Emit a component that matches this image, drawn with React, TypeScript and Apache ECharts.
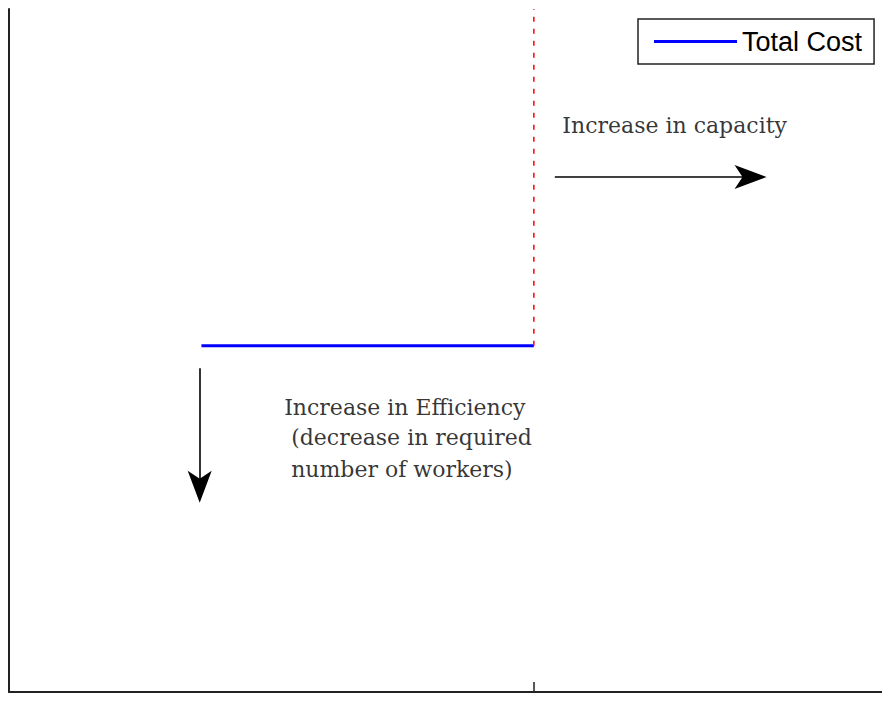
import React, { useEffect, useRef } from "react";
import * as echarts from "echarts";

// x positions (arbitrary units), y = cost
const capacityX = 60;
const startX = 22;
const costLevel = 50.7;
const topY = 100;

const totalCost: [number, number][] = [
  [startX, costLevel],
  [capacityX, costLevel],
];
const capacityLine: [number, number][] = [
  [capacityX, costLevel],
  [capacityX, topY],
];
const arrowCapacity: [number, number][] = [
  [62.4, 75.4],
  [85.5, 75.4],
];
const arrowEfficiency: [number, number][] = [
  [21.8, 47.4],
  [21.8, 28.8],
];
// arrowhead tips and their rotation (degrees)
const arrowHeads: { pos: [number, number]; rotate: number }[] = [
  { pos: [86.6, 75.4], rotate: -90 },
  { pos: [21.8, 27.7], rotate: 180 },
];
const notes: { text: string; pos: [number, number] }[] = [
  { text: "Increase in capacity", pos: [63.2, 82.9] },
  { text: "Increase in Efficiency", pos: [31.4, 41.7] },
  { text: "(decrease in required", pos: [32.2, 37.2] },
  { text: "number of workers)", pos: [32.2, 32.6] },
];

export default function App() {
  const ref = useRef<HTMLDivElement>(null);
  useEffect(() => {
    if (!ref.current) return;
    const chart = echarts.init(ref.current, undefined, { renderer: "svg" });
    chart.setOption({
      animation: false,
      backgroundColor: "#fff",
      grid: { left: 9, top: 9, right: 0, bottom: 10 },
      legend: {
        data: [{ name: "Total Cost", icon: "rect" }],
        left: 638,
        top: 19,
        padding: [9, 12, 9, 16],
        itemWidth: 83,
        itemHeight: 3,
        borderColor: "#222",
        borderWidth: 1.5,
        textStyle: { fontFamily: "Liberation Sans", fontSize: 27, color: "#000" },
      },
      xAxis: {
        type: "value",
        min: 0,
        max: 99.8,
        axisLine: { show: true, onZero: false, lineStyle: { color: "#222", width: 2 } },
        axisTick: { show: true, inside: true, length: 10, customValues: [capacityX], lineStyle: { color: "#222", width: 1.5 } },
        axisLabel: { show: false },
        splitLine: { show: false },
      },
      yAxis: {
        type: "value",
        min: 0,
        max: 100,
        axisLine: { show: true, onZero: false, lineStyle: { color: "#222", width: 2 } },
        axisTick: { show: false },
        axisLabel: { show: false },
        splitLine: { show: false },
      },
      series: [
        {
          name: "Total Cost",
          type: "line",
          data: totalCost,
          showSymbol: false,
          symbol: "none",
          lineStyle: { color: "#0000ff", width: 3 },
          itemStyle: { color: "#0000ff" },
        },
        {
          name: "capacity",
          type: "line",
          data: capacityLine,
          symbol: "none",
          lineStyle: { color: "#ff0000", width: 1.5, type: [5, 7] },
        },
        {
          name: "arrows",
          type: "lines",
          coordinateSystem: "cartesian2d",
          symbol: ["none", "none"],
          lineStyle: { color: "#000", width: 1.6, opacity: 1 },
          data: [{ coords: arrowCapacity }, { coords: arrowEfficiency }],
        },
        {
          name: "arrowHeads",
          type: "scatter",
          symbol: "arrow",
          symbolSize: [18, 32],
          itemStyle: { color: "#000", opacity: 1 },
          data: arrowHeads.map((a) => ({ value: a.pos, symbolRotate: a.rotate })),
        },
        {
          name: "notes",
          type: "scatter",
          symbolSize: 1,
          itemStyle: { color: "rgba(0,0,0,0)" },
          data: notes.map((n) => ({ value: n.pos, name: n.text })),
          label: {
            show: true,
            position: "right",
            distance: 0,
            formatter: (p: any) => p.name,
            fontFamily: "DejaVu Serif",
            fontSize: 22,
            color: "#000",
          },
        },
      ],
    });
    return () => chart.dispose();
  }, []);
  return (
    <div
      ref={ref}
      style={{ position: "fixed", left: 0, top: 0, width: 882, height: 702 }}
    />
  );
}
